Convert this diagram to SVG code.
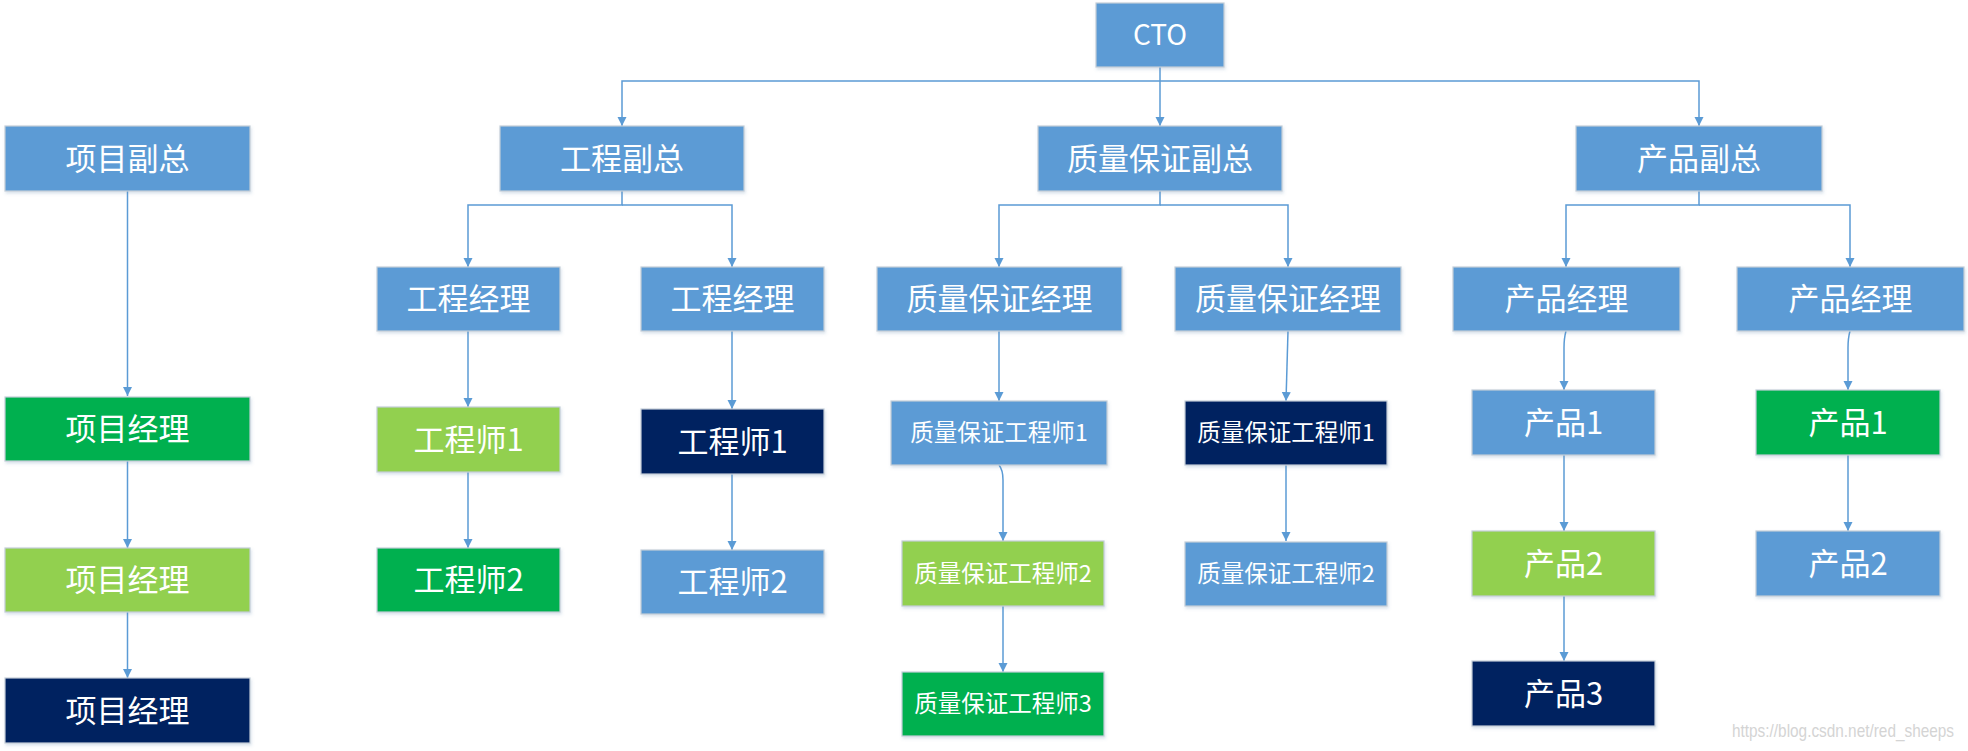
<svg xmlns="http://www.w3.org/2000/svg" width="1968" height="751" viewBox="0 0 1968 751">
<defs>
<style>
.b{stroke:#c3cdd8;stroke-width:1.2;filter:url(#sh)}
.lb{fill:#5b9bd5}.gr{fill:#00b050}.lg{fill:#92d050}.nv{fill:#002060}
.t{fill:#ffffff;font-family:"Noto Sans CJK SC","Microsoft YaHei",sans-serif;font-size:31px;text-anchor:middle}
.s{font-size:23.5px}
.c{fill:none;stroke:#5b9bd5;stroke-width:1.5}
.wm{fill:#d4d4d4;font-family:"Liberation Sans",Arial,sans-serif;font-size:19px}
</style>
<filter id="sh" x="-5%" y="-10%" width="115%" height="130%">
<feDropShadow dx="1" dy="2" stdDeviation="1.5" flood-color="#6b8bb0" flood-opacity="0.25"/>
</filter>
<marker id="ar" markerUnits="userSpaceOnUse" markerWidth="10" markerHeight="10" refX="9" refY="4.5" orient="auto">
<path d="M0,0 L9,4.5 L0,9 z" fill="#5b9bd5"/>
</marker>
</defs>

<g id="connectors">
<path class="c" d="M1160,67 V126" marker-end="url(#ar)"/>
<path class="c" d="M1160,81 H622 V126" marker-end="url(#ar)"/>
<path class="c" d="M1160,81 H1699 V126" marker-end="url(#ar)"/>
<path class="c" d="M622,191 V205 H468 V267" marker-end="url(#ar)"/>
<path class="c" d="M622,205 H732 V267" marker-end="url(#ar)"/>
<path class="c" d="M1160,191 V205 H999 V267" marker-end="url(#ar)"/>
<path class="c" d="M1160,205 H1288 V267" marker-end="url(#ar)"/>
<path class="c" d="M1699,191 V205 H1566 V267" marker-end="url(#ar)"/>
<path class="c" d="M1699,205 H1850 V267" marker-end="url(#ar)"/>
<path class="c" d="M127.5,191 V396" marker-end="url(#ar)"/>
<path class="c" d="M127.5,461 V548" marker-end="url(#ar)"/>
<path class="c" d="M127.5,612 V678" marker-end="url(#ar)"/>
<path class="c" d="M468,331 V407" marker-end="url(#ar)"/>
<path class="c" d="M468,472 V548" marker-end="url(#ar)"/>
<path class="c" d="M732,331 V409" marker-end="url(#ar)"/>
<path class="c" d="M732,474 V550" marker-end="url(#ar)"/>
<path class="c" d="M999,331 V401" marker-end="url(#ar)"/>
<path class="c" d="M999,465 Q1003,470 1003,480 V541" marker-end="url(#ar)"/>
<path class="c" d="M1003,606 V672" marker-end="url(#ar)"/>
<path class="c" d="M1288,331 L1286,401" marker-end="url(#ar)"/>
<path class="c" d="M1286,465 V541" marker-end="url(#ar)"/>
<path class="c" d="M1566,331 Q1564,338 1564,348 V390" marker-end="url(#ar)"/>
<path class="c" d="M1564,455 V531" marker-end="url(#ar)"/>
<path class="c" d="M1564,596 V661" marker-end="url(#ar)"/>
<path class="c" d="M1850,331 Q1848,338 1848,348 V390" marker-end="url(#ar)"/>
<path class="c" d="M1848,455 V531" marker-end="url(#ar)"/>
</g>

<g id="cto"><rect class="b lb" x="1096" y="3" width="128" height="64"/><text class="t" x="1160" y="45" style="font-size:28px">CTO</text></g>

<g id="xmfz"><rect class="b lb" x="5" y="126" width="245" height="65"/><text class="t" x="127.5" y="170">项目副总</text></g>
<g id="gcfz"><rect class="b lb" x="500" y="126" width="244" height="65"/><text class="t" x="622" y="170">工程副总</text></g>
<g id="zlfz"><rect class="b lb" x="1038" y="126" width="244" height="65"/><text class="t" x="1160" y="170">质量保证副总</text></g>
<g id="cpfz"><rect class="b lb" x="1576" y="126" width="246" height="65"/><text class="t" x="1699" y="170">产品副总</text></g>

<g id="gcjl1"><rect class="b lb" x="377" y="267" width="183" height="64"/><text class="t" x="468.5" y="310">工程经理</text></g>
<g id="gcjl2"><rect class="b lb" x="641" y="267" width="183" height="64"/><text class="t" x="732.5" y="310">工程经理</text></g>
<g id="zljl1"><rect class="b lb" x="877" y="267" width="245" height="64"/><text class="t" x="999.5" y="310">质量保证经理</text></g>
<g id="zljl2"><rect class="b lb" x="1175" y="267" width="226" height="64"/><text class="t" x="1288" y="310">质量保证经理</text></g>
<g id="cpjl1"><rect class="b lb" x="1453" y="267" width="227" height="64"/><text class="t" x="1566.5" y="310">产品经理</text></g>
<g id="cpjl2"><rect class="b lb" x="1737" y="267" width="227" height="64"/><text class="t" x="1850.5" y="310">产品经理</text></g>

<g id="xmjl1"><rect class="b gr" x="5" y="397" width="245" height="64"/><text class="t" x="127.5" y="440">项目经理</text></g>
<g id="xmjl2"><rect class="b lg" x="5" y="548" width="245" height="64"/><text class="t" x="127.5" y="591">项目经理</text></g>
<g id="xmjl3"><rect class="b nv" x="5" y="678" width="245" height="65"/><text class="t" x="127.5" y="722">项目经理</text></g>

<g id="gcs1a"><rect class="b lg" x="377" y="407" width="183" height="65"/><text class="t" x="468.5" y="451">工程师1</text></g>
<g id="gcs2a"><rect class="b gr" x="377" y="548" width="183" height="64"/><text class="t" x="468.5" y="591">工程师2</text></g>
<g id="gcs1b"><rect class="b nv" x="641" y="409" width="183" height="65"/><text class="t" x="732.5" y="453">工程师1</text></g>
<g id="gcs2b"><rect class="b lb" x="641" y="550" width="183" height="64"/><text class="t" x="732.5" y="593">工程师2</text></g>

<g id="zlgcs1a"><rect class="b lb" x="891" y="401" width="216" height="64"/><text class="t s" x="999" y="441">质量保证工程师1</text></g>
<g id="zlgcs2a"><rect class="b lg" x="902" y="541" width="202" height="65"/><text class="t s" x="1003" y="582">质量保证工程师2</text></g>
<g id="zlgcs3a"><rect class="b gr" x="902" y="672" width="202" height="64"/><text class="t s" x="1003" y="712">质量保证工程师3</text></g>
<g id="zlgcs1b"><rect class="b nv" x="1185" y="401" width="202" height="64"/><text class="t s" x="1286" y="441">质量保证工程师1</text></g>
<g id="zlgcs2b"><rect class="b lb" x="1185" y="542" width="202" height="64"/><text class="t s" x="1286" y="582">质量保证工程师2</text></g>

<g id="cp1a"><rect class="b lb" x="1472" y="390" width="183" height="65"/><text class="t" x="1563.5" y="434">产品1</text></g>
<g id="cp2a"><rect class="b lg" x="1472" y="531" width="183" height="65"/><text class="t" x="1563.5" y="575">产品2</text></g>
<g id="cp3a"><rect class="b nv" x="1472" y="661" width="183" height="65"/><text class="t" x="1563.5" y="705">产品3</text></g>
<g id="cp1b"><rect class="b gr" x="1756" y="390" width="184" height="65"/><text class="t" x="1848" y="434">产品1</text></g>
<g id="cp2b"><rect class="b lb" x="1756" y="531" width="184" height="65"/><text class="t" x="1848" y="575">产品2</text></g>

<text class="wm" x="1732" y="737" textLength="222" lengthAdjust="spacingAndGlyphs">https://blog.csdn.net/red_sheeps</text>
</svg>
